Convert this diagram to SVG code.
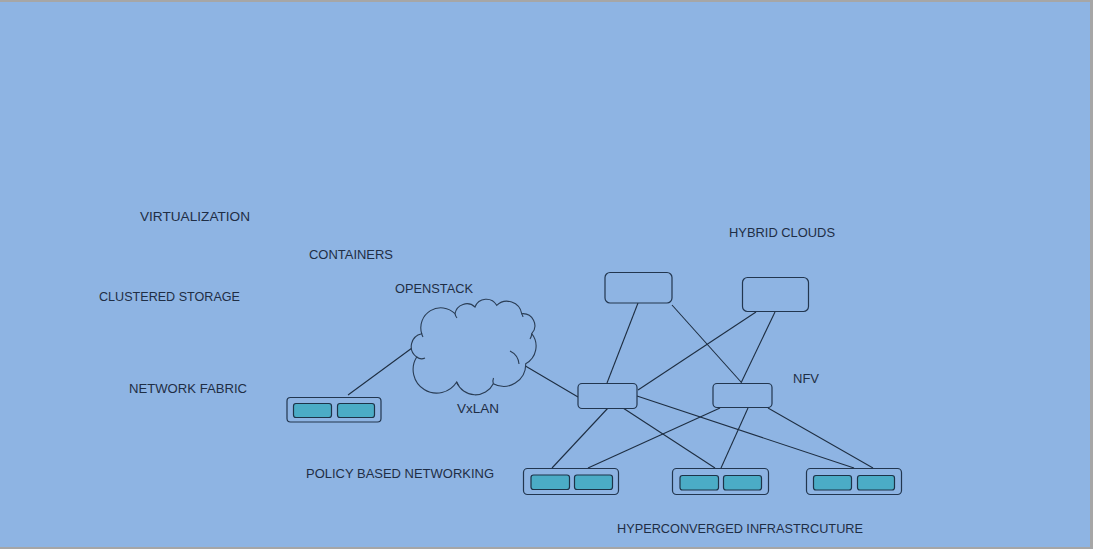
<svg xmlns="http://www.w3.org/2000/svg" width="1093" height="549" viewBox="0 0 1093 549">
<style>
.lbl{font-family:"Liberation Sans",Arial,sans-serif;font-size:13px;fill:#1f2e45}
.box{fill:#8EB4E3;stroke:#22364f;stroke-width:1.2}
.port{fill:#4BACC6;stroke:#1d3348;stroke-width:1.2}
.ln{stroke:#1e2e42;stroke-width:1.1;fill:none}
.cloud{fill:#8EB4E3;stroke:#2a3d55;stroke-width:1.1}
.curl{fill:none;stroke:#2a3d55;stroke-width:1.1}
</style>
<rect x="0" y="0" width="1093" height="549" fill="#a6a6a6"/>
<rect x="0" y="2" width="1090" height="545" fill="#8EB4E3"/>

<g id="labels">
<text class="lbl" x="140" y="221" textLength="110" lengthAdjust="spacingAndGlyphs">VIRTUALIZATION</text>
<text class="lbl" x="309" y="259" textLength="84" lengthAdjust="spacingAndGlyphs">CONTAINERS</text>
<text class="lbl" x="99" y="301" textLength="141" lengthAdjust="spacingAndGlyphs">CLUSTERED STORAGE</text>
<text class="lbl" x="395" y="293" textLength="78" lengthAdjust="spacingAndGlyphs">OPENSTACK</text>
<text class="lbl" x="129" y="393" textLength="118" lengthAdjust="spacingAndGlyphs">NETWORK FABRIC</text>
<text class="lbl" x="457" y="413" textLength="42" lengthAdjust="spacingAndGlyphs">VxLAN</text>
<text class="lbl" x="306" y="478" textLength="188" lengthAdjust="spacingAndGlyphs">POLICY BASED NETWORKING</text>
<text class="lbl" x="729" y="237" textLength="106" lengthAdjust="spacingAndGlyphs">HYBRID CLOUDS</text>
<text class="lbl" x="793" y="383" textLength="26" lengthAdjust="spacingAndGlyphs">NFV</text>
<text class="lbl" x="617" y="533" textLength="246" lengthAdjust="spacingAndGlyphs">HYPERCONVERGED INFRASTRCUTURE</text>
</g>

<g id="connectors">
<line class="ln" x1="348" y1="395" x2="412" y2="348"/>
<line class="ln" x1="522" y1="364" x2="578" y2="397"/>
<line class="ln" x1="638" y1="303" x2="607" y2="383"/>
<line class="ln" x1="672" y1="305" x2="741" y2="382"/>
<line class="ln" x1="756" y1="312" x2="638" y2="390"/>
<line class="ln" x1="775" y1="312" x2="741" y2="383"/>
<line class="ln" x1="608" y1="408" x2="552" y2="468"/>
<line class="ln" x1="623" y1="408" x2="715" y2="468"/>
<line class="ln" x1="637" y1="396" x2="854" y2="468"/>
<line class="ln" x1="720" y1="408" x2="588" y2="468"/>
<line class="ln" x1="748" y1="408" x2="721" y2="468"/>
<line class="ln" x1="768" y1="408" x2="873" y2="468"/>
</g>

<g id="cloud-openstack">
<path class="cloud" d="M421.7,333.7 A20,20 0 0 1 455,313.7 A12,12 0 0 1 475,307 A12,12 0 0 1 496.7,305.3 A15,15 0 0 1 521.7,313.7 A12,12 0 0 1 531.7,333.7 A20,20 0 0 1 525.7,363.7 A22,22 0 0 1 493.3,383.7 A20,20 0 0 1 456.7,382 A21,21 0 0 1 416.7,357 A13,13 0 0 1 421.7,333.7 Z"/>
<path class="curl" d="M416.7,357 A8,8 0 0 0 425,358"/>
<path class="curl" d="M455,313.7 A9,9 0 0 0 457,318"/>
<path class="curl" d="M521.7,313.7 A8,8 0 0 1 523,317"/>
<path class="curl" d="M531.7,333.7 A10,10 0 0 1 530,339"/>
<path class="curl" d="M510,351 A16,16 0 0 1 519,364"/>
<path class="curl" d="M493.3,383.7 A9,9 0 0 1 493.5,378"/>
<path class="curl" d="M456.7,382 A9,9 0 0 0 458,385"/>
<path class="curl" d="M421.7,333.7 A9,9 0 0 0 423,337"/>
</g>

<g id="vxlan-switch">
<rect class="box" x="287" y="397.5" width="94" height="24.5" rx="3.5"/>
<rect class="port" x="293.5" y="403.5" width="38" height="14" rx="2.5"/>
<rect class="port" x="337.5" y="403.5" width="37" height="14" rx="2.5"/>
</g>

<g id="cloud-node-1"><rect class="box" x="605" y="272.5" width="67" height="30.5" rx="5"/></g>
<g id="cloud-node-2"><rect class="box" x="742.5" y="277.5" width="66" height="34" rx="5"/></g>
<g id="nfv-node-1"><rect class="box" x="578" y="383.5" width="59" height="25" rx="4"/></g>
<g id="nfv-node-2"><rect class="box" x="713" y="383.5" width="59" height="24" rx="4"/></g>

<g id="hci-1">
<rect class="box" x="523.5" y="468.5" width="95" height="26" rx="4"/>
<rect class="port" x="531" y="475" width="38.5" height="14.5" rx="2.5"/>
<rect class="port" x="574.5" y="475" width="38" height="14.5" rx="2.5"/>
</g>
<g id="hci-2">
<rect class="box" x="672.5" y="468.5" width="96" height="26" rx="4"/>
<rect class="port" x="680" y="475.5" width="38.5" height="14.5" rx="2.5"/>
<rect class="port" x="723.5" y="475.5" width="38" height="14.5" rx="2.5"/>
</g>
<g id="hci-3">
<rect class="box" x="806.5" y="468.5" width="95" height="26" rx="4"/>
<rect class="port" x="813.5" y="475.5" width="38" height="14.5" rx="2.5"/>
<rect class="port" x="857.5" y="475.5" width="37" height="14.5" rx="2.5"/>
</g>
</svg>
